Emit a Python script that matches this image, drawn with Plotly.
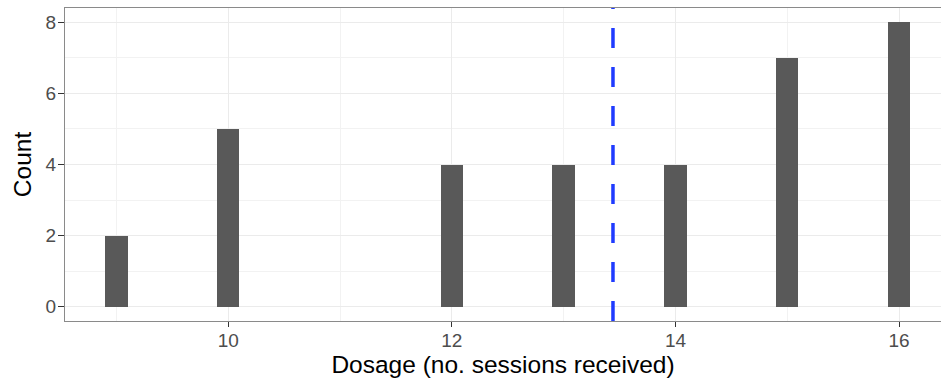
import numpy as np
import plotly.graph_objects as go

# Number of sessions received and how many participants received each
dosage = [9, 10, 12, 13, 14, 15, 16]
count = [2, 5, 4, 4, 4, 7, 8]

x_ticks = [10, 12, 14, 16]
y_ticks = [0, 2, 4, 6, 8]

mean_dosage = float(np.average(dosage, weights=count))

fig = go.Figure()
fig.add_trace(go.Bar(
    x=dosage, y=count, width=0.2,
    marker=dict(color="#595959", line=dict(width=0)),
    hoverinfo="x+y", showlegend=False,
))

# mean dosage marker
fig.add_shape(
    type="line", xref="x", yref="paper",
    x0=mean_dosage, x1=mean_dosage, y0=0, y1=1,
    line=dict(color="#1f3bff", width=3.5, dash="20px,19px"),
    layer="above",
)

axis_font = dict(family="Arial", size=19, color="#4d4d4d")
title_font = dict(family="Arial", size=24.5, color="#000000")

fig.update_xaxes(
    range=[8.54, 16.375],
    tickvals=x_ticks, ticktext=[str(v) for v in x_ticks],
    ticks="outside", ticklen=5, tickwidth=1.2, tickcolor="#333333",
    tickfont=axis_font, ticklabelstandoff=-3,
    showgrid=True, gridcolor="#ebebeb", gridwidth=1.4,
    minor=dict(tickvals=[9, 11, 13, 15], showgrid=True,
               gridcolor="#f2f2f2", gridwidth=0.9, ticks=""),
    zeroline=False,
    showline=True, linecolor="#8a8a8a", linewidth=1.3, mirror=True,
    title=dict(text="Dosage (no. sessions received)", font=title_font, standoff=2),
)
fig.update_yaxes(
    range=[-0.4, 8.4],
    tickvals=y_ticks, ticktext=[str(v) for v in y_ticks],
    ticks="outside", ticklen=6, tickwidth=1.2, tickcolor="#333333",
    tickfont=axis_font, ticklabelstandoff=-2,
    showgrid=True, gridcolor="#ebebeb", gridwidth=1.4,
    minor=dict(tickvals=[1, 3, 5, 7], showgrid=True,
               gridcolor="#f2f2f2", gridwidth=0.9, ticks=""),
    zeroline=False,
    showline=True, linecolor="#8a8a8a", linewidth=1.3, mirror=False,
    title=dict(text="Count", font=title_font, standoff=6),
)

fig.update_layout(
    width=941, height=385,
    margin=dict(l=65, r=0, t=8, b=64),
    plot_bgcolor="white", paper_bgcolor="white",
    bargap=0,
)

fig.write_html("out.html")
